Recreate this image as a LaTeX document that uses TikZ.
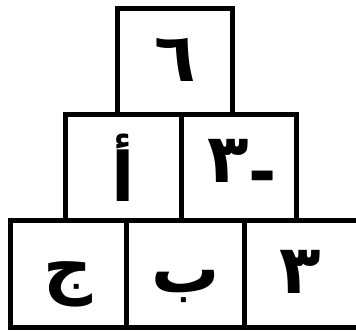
\documentclass[tikz,border=0pt]{standalone}
\usepackage{fontspec}
\newfontfamily\arabicfont[Script=Arabic]{DejaVu Sans}
\TeXXeTstate=1
\begin{document}
\begin{tikzpicture}[x=1pt,y=1pt,
  cell/.style={draw=black, line width=5pt, rectangle, inner sep=0pt, outer sep=0pt, fill=white},
  lbl/.style={font=\arabicfont\bfseries\fontsize{68}{74}\selectfont, inner sep=0pt}]
\useasboundingbox (0,0) rectangle (356,331);
\fill[white] (0,0) rectangle (356,331);
% boxes
\node[cell, minimum width=115.5pt, minimum height=106.5pt] (top) at (174.75,269.25) {};
\node[cell, minimum width=116pt, minimum height=105.5pt] (ml) at (123.5,163.25) {};
\node[cell, minimum width=115pt, minimum height=105.5pt] (mr) at (239,163.25) {};
\node[cell, minimum width=116pt, minimum height=107pt] (bl) at (68.5,57) {};
\node[cell, minimum width=118pt, minimum height=107pt] (bm) at (185.5,57) {};
\node[cell, minimum width=120pt, minimum height=107pt] (br) at (304.5,57) {};
% labels
\node[lbl] (t6) at ([yshift=2pt]top.center) {\beginR ٦\endR};
\node[lbl] (ta) at ([yshift=0pt]ml.center) {\beginR أ\endR};
\node[lbl] (tm3) at ([xshift=3pt]mr.center) {\beginL ٣\raisebox{-13pt}{-}\endL};
\node[lbl] (tj) at ([yshift=-10pt]bl.center) {\beginR ج\endR};
\node[lbl] (tb) at ([yshift=-12pt]bm.center) {\beginR ب\endR};
\node[lbl] (t3) at ([xshift=-4pt,yshift=2pt]br.center) {\beginR ٣\endR};
\end{tikzpicture}
\end{document}
